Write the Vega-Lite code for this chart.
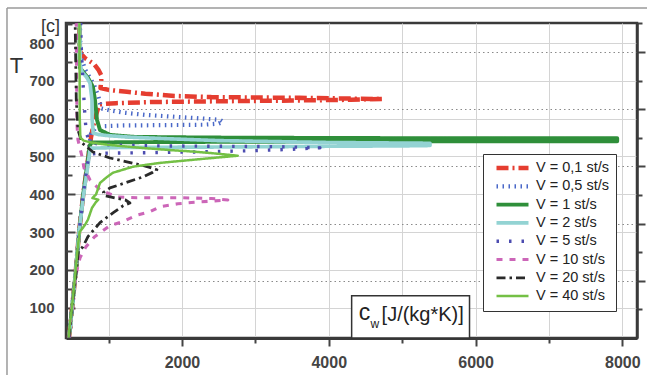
{
 "$schema": "https://vega.github.io/schema/vega-lite/v6.json",
 "width": 571, "height": 315,
 "autosize": {"type": "none"},
 "padding": {"left": 66, "top": 23, "right": 10, "bottom": 37},
 "background": "white",
 "config": {
  "view": {"stroke": "#3a3a3a", "strokeWidth": 2.5},
  "font": "Liberation Sans",
  "legend": {
   "orient": "none", "legendX": 417, "legendY": 131,
   "symbolType": "stroke", "symbolSize": 1024,
   "labelFont": "Liberation Sans", "labelFontSize": 14.5, "labelColor": "#222",
   "strokeColor": "#333", "fillColor": "white",
   "padding": 7, "clipHeight": 14, "rowPadding": 3.3,
   "labelOffset": 5, "symbolOffset": 4
  }
 },
 "datasets": {
  "curves": [
   {"V":"V = 0,1 st/s","i":0,"T":21,"c":460},{"V":"V = 0,1 st/s","i":1,"T":100,"c":503},{"V":"V = 0,1 st/s","i":2,"T":200,"c":555},{"V":"V = 0,1 st/s","i":3,"T":300,"c":598},{"V":"V = 0,1 st/s","i":4,"T":400,"c":655},{"V":"V = 0,1 st/s","i":5,"T":500,"c":725},{"V":"V = 0,1 st/s","i":6,"T":530,"c":745},{"V":"V = 0,1 st/s","i":7,"T":550,"c":760},{"V":"V = 0,1 st/s","i":8,"T":580,"c":790},{"V":"V = 0,1 st/s","i":9,"T":610,"c":830},{"V":"V = 0,1 st/s","i":10,"T":630,"c":860},{"V":"V = 0,1 st/s","i":11,"T":638,"c":880},{"V":"V = 0,1 st/s","i":12,"T":641,"c":1100},{"V":"V = 0,1 st/s","i":13,"T":644,"c":1600},{"V":"V = 0,1 st/s","i":14,"T":646,"c":2500},{"V":"V = 0,1 st/s","i":15,"T":648,"c":3500},{"V":"V = 0,1 st/s","i":16,"T":650,"c":4300},{"V":"V = 0,1 st/s","i":17,"T":652,"c":4730},{"V":"V = 0,1 st/s","i":18,"T":655,"c":3600},{"V":"V = 0,1 st/s","i":19,"T":657,"c":2400},{"V":"V = 0,1 st/s","i":20,"T":660,"c":1900},{"V":"V = 0,1 st/s","i":21,"T":666,"c":1500},{"V":"V = 0,1 st/s","i":22,"T":671,"c":1250},{"V":"V = 0,1 st/s","i":23,"T":676,"c":1000},{"V":"V = 0,1 st/s","i":24,"T":681,"c":890},{"V":"V = 0,1 st/s","i":25,"T":700,"c":900},{"V":"V = 0,1 st/s","i":26,"T":715,"c":900},{"V":"V = 0,1 st/s","i":27,"T":730,"c":860},{"V":"V = 0,1 st/s","i":28,"T":745,"c":800},{"V":"V = 0,1 st/s","i":29,"T":760,"c":680},{"V":"V = 0,1 st/s","i":30,"T":770,"c":630},{"V":"V = 0,1 st/s","i":31,"T":780,"c":610},{"V":"V = 0,1 st/s","i":32,"T":853,"c":605},
   {"V":"V = 0,5 st/s","i":0,"T":21,"c":460},{"V":"V = 0,5 st/s","i":1,"T":100,"c":503},{"V":"V = 0,5 st/s","i":2,"T":200,"c":555},{"V":"V = 0,5 st/s","i":3,"T":300,"c":598},{"V":"V = 0,5 st/s","i":4,"T":400,"c":655},{"V":"V = 0,5 st/s","i":5,"T":500,"c":725},{"V":"V = 0,5 st/s","i":6,"T":540,"c":745},{"V":"V = 0,5 st/s","i":7,"T":560,"c":760},{"V":"V = 0,5 st/s","i":8,"T":575,"c":820},{"V":"V = 0,5 st/s","i":9,"T":580,"c":900},{"V":"V = 0,5 st/s","i":10,"T":582,"c":1200},{"V":"V = 0,5 st/s","i":11,"T":583,"c":1800},{"V":"V = 0,5 st/s","i":12,"T":584,"c":2300},{"V":"V = 0,5 st/s","i":13,"T":587,"c":2500},{"V":"V = 0,5 st/s","i":14,"T":592,"c":2560},{"V":"V = 0,5 st/s","i":15,"T":597,"c":2520},{"V":"V = 0,5 st/s","i":16,"T":600,"c":2300},{"V":"V = 0,5 st/s","i":17,"T":605,"c":1900},{"V":"V = 0,5 st/s","i":18,"T":610,"c":1500},{"V":"V = 0,5 st/s","i":19,"T":616,"c":1200},{"V":"V = 0,5 st/s","i":20,"T":622,"c":1020},{"V":"V = 0,5 st/s","i":21,"T":627,"c":900},{"V":"V = 0,5 st/s","i":22,"T":660,"c":860},{"V":"V = 0,5 st/s","i":23,"T":690,"c":800},{"V":"V = 0,5 st/s","i":24,"T":710,"c":740},{"V":"V = 0,5 st/s","i":25,"T":730,"c":680},{"V":"V = 0,5 st/s","i":26,"T":760,"c":630},{"V":"V = 0,5 st/s","i":27,"T":800,"c":615},{"V":"V = 0,5 st/s","i":28,"T":853,"c":610},
   {"V":"V = 1 st/s","i":0,"T":21,"c":460},{"V":"V = 1 st/s","i":1,"T":100,"c":503},{"V":"V = 1 st/s","i":2,"T":200,"c":555},{"V":"V = 1 st/s","i":3,"T":300,"c":598},{"V":"V = 1 st/s","i":4,"T":400,"c":655},{"V":"V = 1 st/s","i":5,"T":500,"c":725},{"V":"V = 1 st/s","i":6,"T":530,"c":745},{"V":"V = 1 st/s","i":7,"T":537,"c":770},{"V":"V = 1 st/s","i":8,"T":538,"c":1500},{"V":"V = 1 st/s","i":9,"T":539,"c":3000},{"V":"V = 1 st/s","i":10,"T":540,"c":5000},{"V":"V = 1 st/s","i":11,"T":540,"c":7000},{"V":"V = 1 st/s","i":12,"T":540,"c":7930},{"V":"V = 1 st/s","i":13,"T":548,"c":7930},{"V":"V = 1 st/s","i":14,"T":548,"c":6000},{"V":"V = 1 st/s","i":15,"T":549,"c":4000},{"V":"V = 1 st/s","i":16,"T":550,"c":2500},{"V":"V = 1 st/s","i":17,"T":551,"c":1800},{"V":"V = 1 st/s","i":18,"T":552,"c":1330},{"V":"V = 1 st/s","i":19,"T":557,"c":1020},{"V":"V = 1 st/s","i":20,"T":570,"c":883},{"V":"V = 1 st/s","i":21,"T":597,"c":842},{"V":"V = 1 st/s","i":22,"T":649,"c":815},{"V":"V = 1 st/s","i":23,"T":684,"c":787},{"V":"V = 1 st/s","i":24,"T":708,"c":720},{"V":"V = 1 st/s","i":25,"T":734,"c":611},{"V":"V = 1 st/s","i":26,"T":760,"c":605},{"V":"V = 1 st/s","i":27,"T":853,"c":605},
   {"V":"V = 2 st/s","i":0,"T":21,"c":460},{"V":"V = 2 st/s","i":1,"T":100,"c":503},{"V":"V = 2 st/s","i":2,"T":200,"c":555},{"V":"V = 2 st/s","i":3,"T":300,"c":598},{"V":"V = 2 st/s","i":4,"T":400,"c":660},{"V":"V = 2 st/s","i":5,"T":478,"c":720},{"V":"V = 2 st/s","i":6,"T":515,"c":745},{"V":"V = 2 st/s","i":7,"T":522,"c":760},{"V":"V = 2 st/s","i":8,"T":524,"c":1200},{"V":"V = 2 st/s","i":9,"T":525,"c":2500},{"V":"V = 2 st/s","i":10,"T":527,"c":4000},{"V":"V = 2 st/s","i":11,"T":528,"c":5000},{"V":"V = 2 st/s","i":12,"T":529,"c":5380},{"V":"V = 2 st/s","i":13,"T":535,"c":5380},{"V":"V = 2 st/s","i":14,"T":537,"c":4000},{"V":"V = 2 st/s","i":15,"T":542,"c":2500},{"V":"V = 2 st/s","i":16,"T":547,"c":1800},{"V":"V = 2 st/s","i":17,"T":551,"c":1300},{"V":"V = 2 st/s","i":18,"T":555,"c":1000},{"V":"V = 2 st/s","i":19,"T":558,"c":860},{"V":"V = 2 st/s","i":20,"T":562,"c":790},{"V":"V = 2 st/s","i":21,"T":600,"c":776},{"V":"V = 2 st/s","i":22,"T":649,"c":774},{"V":"V = 2 st/s","i":23,"T":672,"c":760},{"V":"V = 2 st/s","i":24,"T":694,"c":747},{"V":"V = 2 st/s","i":25,"T":710,"c":700},{"V":"V = 2 st/s","i":26,"T":723,"c":640},{"V":"V = 2 st/s","i":27,"T":740,"c":615},{"V":"V = 2 st/s","i":28,"T":853,"c":606},
   {"V":"V = 5 st/s","i":0,"T":21,"c":460},{"V":"V = 5 st/s","i":1,"T":100,"c":503},{"V":"V = 5 st/s","i":2,"T":200,"c":555},{"V":"V = 5 st/s","i":3,"T":300,"c":598},{"V":"V = 5 st/s","i":4,"T":400,"c":655},{"V":"V = 5 st/s","i":5,"T":500,"c":728},{"V":"V = 5 st/s","i":6,"T":507,"c":770},{"V":"V = 5 st/s","i":7,"T":509,"c":1000},{"V":"V = 5 st/s","i":8,"T":510,"c":1500},{"V":"V = 5 st/s","i":9,"T":512,"c":2200},{"V":"V = 5 st/s","i":10,"T":515,"c":2900},{"V":"V = 5 st/s","i":11,"T":519,"c":3500},{"V":"V = 5 st/s","i":12,"T":523,"c":3880},{"V":"V = 5 st/s","i":13,"T":526,"c":3300},{"V":"V = 5 st/s","i":14,"T":527,"c":2500},{"V":"V = 5 st/s","i":15,"T":528,"c":1700},{"V":"V = 5 st/s","i":16,"T":530,"c":1100},{"V":"V = 5 st/s","i":17,"T":533,"c":850},{"V":"V = 5 st/s","i":18,"T":540,"c":740},{"V":"V = 5 st/s","i":19,"T":560,"c":700},{"V":"V = 5 st/s","i":20,"T":600,"c":680},{"V":"V = 5 st/s","i":21,"T":700,"c":650},{"V":"V = 5 st/s","i":22,"T":800,"c":625},{"V":"V = 5 st/s","i":23,"T":853,"c":620},
   {"V":"V = 10 st/s","i":0,"T":21,"c":460},{"V":"V = 10 st/s","i":1,"T":100,"c":500},{"V":"V = 10 st/s","i":2,"T":150,"c":530},{"V":"V = 10 st/s","i":3,"T":200,"c":570},{"V":"V = 10 st/s","i":4,"T":232,"c":611},{"V":"V = 10 st/s","i":5,"T":261,"c":690},{"V":"V = 10 st/s","i":6,"T":272,"c":740},{"V":"V = 10 st/s","i":7,"T":288,"c":810},{"V":"V = 10 st/s","i":8,"T":298,"c":883},{"V":"V = 10 st/s","i":9,"T":317,"c":1019},{"V":"V = 10 st/s","i":10,"T":327,"c":1182},{"V":"V = 10 st/s","i":11,"T":345,"c":1386},{"V":"V = 10 st/s","i":12,"T":354,"c":1563},{"V":"V = 10 st/s","i":13,"T":367,"c":1699},{"V":"V = 10 st/s","i":14,"T":375,"c":1944},{"V":"V = 10 st/s","i":15,"T":380,"c":2244},{"V":"V = 10 st/s","i":16,"T":385,"c":2625},{"V":"V = 10 st/s","i":17,"T":389,"c":2400},{"V":"V = 10 st/s","i":18,"T":391,"c":1972},{"V":"V = 10 st/s","i":19,"T":391,"c":1700},{"V":"V = 10 st/s","i":20,"T":391,"c":1386},{"V":"V = 10 st/s","i":21,"T":393,"c":1114},{"V":"V = 10 st/s","i":22,"T":412,"c":883},{"V":"V = 10 st/s","i":23,"T":438,"c":747},{"V":"V = 10 st/s","i":24,"T":470,"c":665},{"V":"V = 10 st/s","i":25,"T":500,"c":638},{"V":"V = 10 st/s","i":26,"T":544,"c":583},{"V":"V = 10 st/s","i":27,"T":583,"c":570},{"V":"V = 10 st/s","i":28,"T":700,"c":565},{"V":"V = 10 st/s","i":29,"T":853,"c":560},
   {"V":"V = 20 st/s","i":0,"T":21,"c":460},{"V":"V = 20 st/s","i":1,"T":100,"c":500},{"V":"V = 20 st/s","i":2,"T":180,"c":550},{"V":"V = 20 st/s","i":3,"T":250,"c":590},{"V":"V = 20 st/s","i":4,"T":261,"c":650},{"V":"V = 20 st/s","i":5,"T":288,"c":719},{"V":"V = 20 st/s","i":6,"T":325,"c":883},{"V":"V = 20 st/s","i":7,"T":351,"c":1060},{"V":"V = 20 st/s","i":8,"T":370,"c":1200},{"V":"V = 20 st/s","i":9,"T":377,"c":1291},{"V":"V = 20 st/s","i":10,"T":385,"c":1230},{"V":"V = 20 st/s","i":11,"T":388,"c":1155},{"V":"V = 20 st/s","i":12,"T":396,"c":951},{"V":"V = 20 st/s","i":13,"T":405,"c":930},{"V":"V = 20 st/s","i":14,"T":417,"c":1019},{"V":"V = 20 st/s","i":15,"T":430,"c":1223},{"V":"V = 20 st/s","i":16,"T":446,"c":1468},{"V":"V = 20 st/s","i":17,"T":458,"c":1600},{"V":"V = 20 st/s","i":18,"T":465,"c":1659},{"V":"V = 20 st/s","i":19,"T":472,"c":1550},{"V":"V = 20 st/s","i":20,"T":478,"c":1427},{"V":"V = 20 st/s","i":21,"T":486,"c":1250},{"V":"V = 20 st/s","i":22,"T":496,"c":1019},{"V":"V = 20 st/s","i":23,"T":512,"c":787},{"V":"V = 20 st/s","i":24,"T":536,"c":638},{"V":"V = 20 st/s","i":25,"T":570,"c":583},{"V":"V = 20 st/s","i":26,"T":650,"c":560},{"V":"V = 20 st/s","i":27,"T":853,"c":545},
   {"V":"V = 40 st/s","i":0,"T":21,"c":455},{"V":"V = 40 st/s","i":1,"T":60,"c":475},{"V":"V = 40 st/s","i":2,"T":100,"c":500},{"V":"V = 40 st/s","i":3,"T":175,"c":540},{"V":"V = 40 st/s","i":4,"T":250,"c":575},{"V":"V = 40 st/s","i":5,"T":300,"c":605},{"V":"V = 40 st/s","i":6,"T":319,"c":679},{"V":"V = 40 st/s","i":7,"T":333,"c":719},{"V":"V = 40 st/s","i":8,"T":364,"c":774},{"V":"V = 40 st/s","i":9,"T":380,"c":830},{"V":"V = 40 st/s","i":10,"T":386,"c":860},{"V":"V = 40 st/s","i":11,"T":390,"c":780},{"V":"V = 40 st/s","i":12,"T":400,"c":830},{"V":"V = 40 st/s","i":13,"T":417,"c":860},{"V":"V = 40 st/s","i":14,"T":430,"c":883},{"V":"V = 40 st/s","i":15,"T":446,"c":980},{"V":"V = 40 st/s","i":16,"T":457,"c":1060},{"V":"V = 40 st/s","i":17,"T":473,"c":1332},{"V":"V = 40 st/s","i":18,"T":483,"c":1699},{"V":"V = 40 st/s","i":19,"T":488,"c":1972},{"V":"V = 40 st/s","i":20,"T":494,"c":2300},{"V":"V = 40 st/s","i":21,"T":502,"c":2760},{"V":"V = 40 st/s","i":22,"T":508,"c":2450},{"V":"V = 40 st/s","i":23,"T":513,"c":2150},{"V":"V = 40 st/s","i":24,"T":517,"c":1835},{"V":"V = 40 st/s","i":25,"T":522,"c":1500},{"V":"V = 40 st/s","i":26,"T":527,"c":1200},{"V":"V = 40 st/s","i":27,"T":532,"c":950},{"V":"V = 40 st/s","i":28,"T":537,"c":760},{"V":"V = 40 st/s","i":29,"T":542,"c":660},{"V":"V = 40 st/s","i":30,"T":550,"c":615},{"V":"V = 40 st/s","i":31,"T":600,"c":608},{"V":"V = 40 st/s","i":32,"T":700,"c":606},{"V":"V = 40 st/s","i":33,"T":853,"c":603}
  ]
 },
 "layer": [
  {
   "layer": [
    {
     "data": {"name": "curves"},
     "mark": {"type": "line", "clip": true, "strokeCap": "butt", "strokeJoin": "round"},
     "encoding": {
      "x": {"field": "c", "type": "quantitative", "scale": {"domain": [420, 8200], "nice": false, "zero": false},
       "axis": {"values": [1000,2000,3000,4000,5000,6000,7000,8000], "format": "d",
        "labelExpr": "datum.value % 2000 === 0 ? datum.label : ''",
        "tickSize": {"condition": {"test": "datum.value % 2000 === 0", "value": 8}, "value": 5},
        "tickWidth": 2, "tickColor": "#444", "labelPadding": 8,
        "domainWidth": 3, "domainColor": "#3a3a3a",
        "grid": true, "gridColor": "#d4d4d4", "gridWidth": 1,
        "labelFont": "Liberation Sans", "labelFontWeight": "bold", "labelFontSize": 16, "labelColor": "#444",
        "title": null}},
      "y": {"field": "T", "type": "quantitative", "scale": {"domain": [20, 853], "nice": false, "zero": false},
       "axis": {"orient": "left", "values": [100,200,300,400,500,600,700,800], "format": "d",
        "tickSize": -9,
        "tickWidth": 2, "tickColor": "#444", "labelPadding": 21,
        "domainWidth": 3, "domainColor": "#3a3a3a",
        "grid": true, "gridColor": "#d4d4d4", "gridWidth": 1,
        "labelFont": "Liberation Sans", "labelFontWeight": "bold", "labelFontSize": 15, "labelColor": "#444",
        "title": "T", "titleAngle": 0, "titleX": -50, "titleY": 49, "titleAlign": "center", "titleBaseline": "alphabetic",
        "titleFont": "Liberation Sans", "titleFontSize": 22, "titleFontWeight": "normal", "titleColor": "#333"}},
      "order": {"field": "i", "type": "quantitative"},
      "color": {"field": "V", "type": "nominal", "legend": {"title": null},
       "scale": {"domain": ["V = 0,1 st/s","V = 0,5 st/s","V = 1 st/s","V = 2 st/s","V = 5 st/s","V = 10 st/s","V = 20 st/s","V = 40 st/s"],
        "range": ["#e53d30","#4a68c8","#2f8f3a","#93d3d3","#4c4cb0","#cc66b8","#2a2a2a","#74c045"]}},
      "strokeDash": {"field": "V", "type": "nominal", "legend": {"title": null},
       "scale": {"domain": ["V = 0,1 st/s","V = 0,5 st/s","V = 1 st/s","V = 2 st/s","V = 5 st/s","V = 10 st/s","V = 20 st/s","V = 40 st/s"],
        "range": [[12,4,2,4],[1.5,4.5],[1,0],[1,0],[2.5,10],[6,7],[9,4,2.5,4],[1,0]]}},
      "strokeWidth": {"field": "V", "type": "nominal", "legend": {"title": null},
       "scale": {"domain": ["V = 0,1 st/s","V = 0,5 st/s","V = 1 st/s","V = 2 st/s","V = 5 st/s","V = 10 st/s","V = 20 st/s","V = 40 st/s"],
        "range": [4.5,2.5,4,2.5,3,5.5,3.5,3.5]}}
     }
    },
    {
     "data": {"values": [{}]},
     "mark": {"type": "rect", "fill": "white", "stroke": "#333", "strokeWidth": 1.5},
     "encoding": {
      "x": {"datum": 4312, "type": "quantitative", "scale": {"domain": [420, 8200], "nice": false, "zero": false}},
      "x2": {"datum": 5918},
      "y": {"datum": 132, "type": "quantitative", "scale": {"domain": [20, 853], "nice": false, "zero": false}},
      "y2": {"datum": 20}
     }
    },
    {
     "data": {"values": [{}]},
     "mark": {"type": "text", "text": "c", "font": "Liberation Sans", "fontSize": 23, "align": "left", "baseline": "alphabetic", "color": "#222"},
     "encoding": {
      "x": {"datum": 4408, "type": "quantitative", "scale": {"domain": [420, 8200], "nice": false, "zero": false}},
      "y": {"datum": 68, "type": "quantitative", "scale": {"domain": [20, 853], "nice": false, "zero": false}}
     }
    },
    {
     "data": {"values": [{}]},
     "mark": {"type": "text", "text": "w", "font": "Liberation Sans", "fontSize": 12, "align": "left", "baseline": "alphabetic", "color": "#222"},
     "encoding": {
      "x": {"datum": 4570, "type": "quantitative", "scale": {"domain": [420, 8200], "nice": false, "zero": false}},
      "y": {"datum": 47, "type": "quantitative", "scale": {"domain": [20, 853], "nice": false, "zero": false}}
     }
    },
    {
     "data": {"values": [{}]},
     "mark": {"type": "text", "text": "[J/(kg*K)]", "font": "Liberation Sans", "fontSize": 20, "align": "left", "baseline": "alphabetic", "color": "#222"},
     "encoding": {
      "x": {"datum": 4720, "type": "quantitative", "scale": {"domain": [420, 8200], "nice": false, "zero": false}},
      "y": {"datum": 66, "type": "quantitative", "scale": {"domain": [20, 853], "nice": false, "zero": false}}
     }
    },
    {
     "data": {"values": [{}]},
     "mark": {"type": "rule", "color": "#9a9a9a", "strokeWidth": 1.5, "clip": false},
     "encoding": {
      "x": {"datum": -384, "type": "quantitative", "scale": {"domain": [420, 8200], "nice": false, "zero": false}},
      "y": {"datum": 892.7, "type": "quantitative", "scale": {"domain": [20, 853], "nice": false, "zero": false}},
      "y2": {"datum": -78}
     }
    },
    {
     "data": {"values": [{}]},
     "mark": {"type": "rule", "color": "#9a9a9a", "strokeWidth": 1.5, "clip": false},
     "encoding": {
      "x": {"datum": -384, "type": "quantitative", "scale": {"domain": [420, 8200], "nice": false, "zero": false}},
      "x2": {"datum": 8340},
      "y": {"datum": 892.7, "type": "quantitative", "scale": {"domain": [20, 853], "nice": false, "zero": false}}
     }
    }
   ]
  },
  {
   "data": {"values": [{}]},
   "mark": {"type": "point", "opacity": 0},
   "encoding": {
    "y": {"datum": 1, "type": "quantitative", "scale": {"domain": [0, 5.508], "nice": false, "zero": false},
     "axis": {"orient": "right", "values": [0.5,1,1.5,2,2.5,3,3.5,4,4.5,5,5.5], "labels": false,
      "tickSize": {"condition": {"test": "datum.value % 1 === 0", "value": 8}, "value": 5},
      "tickWidth": 2, "tickColor": "#444", "domainWidth": 2.5, "domainColor": "#3a3a3a",
      "grid": true, "gridColor": "#8a8a8a", "gridDash": [1.5, 3], "gridWidth": 1.2,
      "gridOpacity": {"condition": {"test": "datum.value % 1 === 0", "value": 1}, "value": 0},
      "title": "[c]", "titleAngle": 0, "titleX": -587, "titleY": 8, "titleAlign": "center", "titleBaseline": "alphabetic",
      "titleFont": "Liberation Sans", "titleFontSize": 18, "titleFontWeight": "normal", "titleColor": "#333"}}
   }
  },
  {
   "data": {"values": [{}]},
   "mark": {"type": "point", "opacity": 0},
   "encoding": {
    "y": {"datum": 100, "type": "quantitative", "scale": {"domain": [20, 853], "nice": false, "zero": false},
     "axis": {"orient": "left", "values": [50,150,250,350,450,550,650,750,850], "labels": false, "domain": false, "grid": false,
      "tickSize": -6, "tickWidth": 2, "tickColor": "#444", "title": null}}
   }
  }
 ],
 "resolve": {"scale": {"y": "independent"}, "axis": {"y": "independent"}}
}
